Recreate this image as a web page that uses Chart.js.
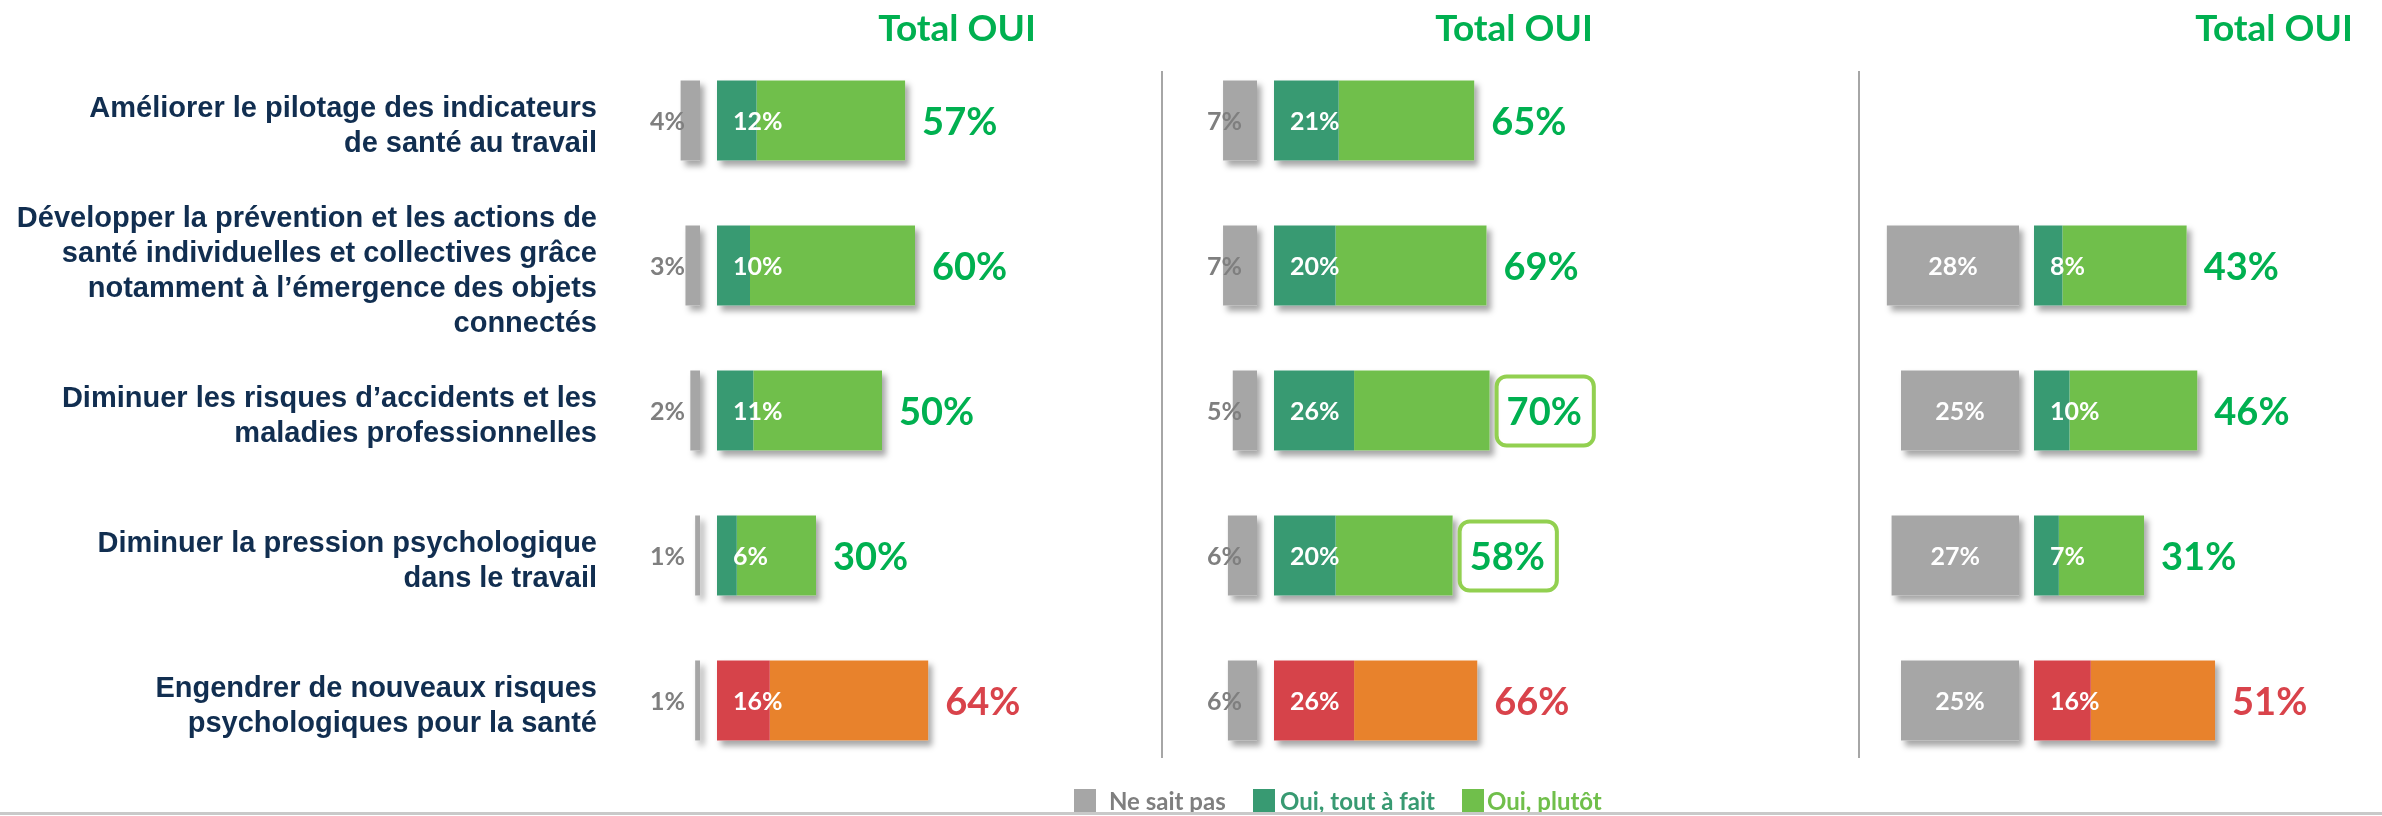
<!DOCTYPE html>
<html><head><meta charset="utf-8">
<script src="https://cdn.jsdelivr.net/npm/chart.js@4.4.1/dist/chart.umd.min.js"></script>
<style>html,body{margin:0;padding:0;background:#fff;}canvas{display:block;}</style>
</head><body>
<canvas id="c" width="2382" height="816"></canvas>
<script>
// ---------- DATA ----------
const categories = [
  ["Améliorer le pilotage des indicateurs", "de santé au travail"],
  ["Développer la prévention et les actions de", "santé individuelles et collectives grâce", "notamment à l’émergence des objets", "connectés"],
  ["Diminuer les risques d’accidents et les", "maladies professionnelles"],
  ["Diminuer la pression psychologique", "dans le travail"],
  ["Engendrer de nouveaux risques", "psychologiques pour la santé"]
];
const neSaitPas1 = [4, 3, 2, 1, 1];
const toutAFait1 = [12, 10, 11, 6, 16];
const plutot1    = [45, 50, 39, 24, 48];
const totalOui1  = [57, 60, 50, 30, 64];

const neSaitPas2 = [7, 7, 5, 6, 6];
const toutAFait2 = [21, 20, 26, 20, 26];
const plutot2    = [44, 49, 44, 38, 40];
const totalOui2  = [65, 69, 70, 58, 66];

const neSaitPas3 = [null, 28, 25, 27, 25];
const toutAFait3 = [null, 8, 10, 7, 16];
const plutot3    = [null, 35, 36, 24, 35];
const totalOui3  = [null, 43, 46, 31, 51];

const headerText = "Total OUI";
const legendLabels = ["Ne sait pas", "Oui, tout à fait", "Oui, plutôt"];

// ---------- STYLE / LAYOUT ----------
const GREY = "#A6A6A6", DKGREEN = "#389A72", LTGREEN = "#70BF4B", RED = "#D6434A", ORANGE = "#E8822C";
const TOTAL_GREEN = "#00B050", TOTAL_RED = "#D9434B", NAVY = "#112E50", GREY_TXT = "#7F7F7F";
const FONT = 'Lato, "Open Sans", sans-serif';
const negativeRow = 4;
const AREA_L = 620, AREA_R = 2382;
const LABEL_SHIFT = 6;

const panels = [
  {grey: neSaitPas1, dark: toutAFait1, light: plutot1, total: totalOui1, greyZero: 700,  greyK: 4.85, greenZero: 717,  greenK: 3.3,  greyInside: false, boxes: []},
  {grey: neSaitPas2, dark: toutAFait2, light: plutot2, total: totalOui2, greyZero: 1257, greyK: 4.85, greenZero: 1274, greenK: 3.08, greyInside: false, boxes: [2, 3]},
  {grey: neSaitPas3, dark: toutAFait3, light: plutot3, total: totalOui3, greyZero: 2019, greyK: 4.72, greenZero: 2034, greenK: 3.55, greyInside: true,  boxes: []}
];
const separators = [1162, 1859];

const darkColors  = categories.map((_, i) => i === negativeRow ? RED : DKGREEN);
const lightColors = categories.map((_, i) => i === negativeRow ? ORANGE : LTGREEN);
const totalColors = categories.map((_, i) => i === negativeRow ? TOTAL_RED : TOTAL_GREEN);

const scales = {
  y: {
    type: 'category', position: 'left',
    grid: {display: false, drawTicks: false}, border: {display: false},
    ticks: {padding: 23, color: NAVY, font: {family: '"Liberation Sans", Arial, sans-serif', weight: 'bold', size: 29, lineHeight: 1.2}},
    afterFit(s) {
      s.width = AREA_L; s.paddingTop = 0; s.paddingBottom = 0;
      if (!s._shiftPatched && typeof s._computeLabelItems === 'function') {
        const orig = s._computeLabelItems;
        s._computeLabelItems = function (ca) {
          const items = orig.call(this, ca);
          try { items.forEach(it => { if (it.options && it.options.translation) it.options.translation[1] += LABEL_SHIFT; }); } catch (e) {}
          return items;
        };
        s._shiftPatched = true;
      }
    }
  }
};
const datasets = [];
const roles = [];
panels.forEach((p, k) => {
  scales['g' + k] = {type: 'linear', axis: 'x', position: 'bottom', display: false, reverse: true, stacked: true, bounds: 'data',
    min: -(AREA_R - p.greyZero) / p.greyK, max: (p.greyZero - AREA_L) / p.greyK};
  scales['v' + k] = {type: 'linear', axis: 'x', position: 'bottom', display: false, stacked: true, bounds: 'data',
    min: -(p.greenZero - AREA_L) / p.greenK, max: (AREA_R - p.greenZero) / p.greenK};
  datasets.push({label: legendLabels[0], data: p.grey, xAxisID: 'g' + k, yAxisID: 'y', backgroundColor: GREY, order: 3});
  roles.push({panel: k, role: 'grey'});
  datasets.push({label: legendLabels[1], data: p.dark, xAxisID: 'v' + k, yAxisID: 'y', backgroundColor: darkColors, order: 1});
  roles.push({panel: k, role: 'dark'});
  datasets.push({label: legendLabels[2], data: p.light, xAxisID: 'v' + k, yAxisID: 'y', backgroundColor: lightColors, order: 2});
  roles.push({panel: k, role: 'light'});
});

function roundRect(ctx, x, y, w, h, r) {
  ctx.beginPath();
  ctx.moveTo(x + r, y);
  ctx.arcTo(x + w, y, x + w, y + h, r);
  ctx.arcTo(x + w, y + h, x, y + h, r);
  ctx.arcTo(x, y + h, x, y, r);
  ctx.arcTo(x, y, x + w, y, r);
  ctx.closePath();
}

const overlay = {
  id: 'overlay',
  beforeDatasetsDraw(chart) {
    // soft drop shadows behind each bar group
    const ctx = chart.ctx;
    ctx.save();
    ctx.shadowColor = 'rgba(0,0,0,0.35)';
    ctx.shadowBlur = 6;
    ctx.shadowOffsetX = 4;
    ctx.shadowOffsetY = 5;
    ctx.fillStyle = '#ffffff';
    const groups = {};
    chart.data.datasets.forEach((ds, di) => {
      const r = roles[di];
      const meta = chart.getDatasetMeta(di);
      meta.data.forEach((el, i) => {
        if (ds.data[i] === null || ds.data[i] === undefined) return;
        const key = r.panel + '-' + i + '-' + (r.role === 'grey' ? 'g' : 'v');
        const lo = Math.min(el.x, el.base), hi = Math.max(el.x, el.base);
        const g = groups[key] || (groups[key] = {lo: Infinity, hi: -Infinity, y: el.y, h: el.height});
        g.lo = Math.min(g.lo, lo); g.hi = Math.max(g.hi, hi);
      });
    });
    Object.values(groups).forEach(g => ctx.fillRect(g.lo, g.y - g.h / 2, g.hi - g.lo, g.h));
    ctx.restore();
  },
  afterDatasetsDraw(chart) {
    const ctx = chart.ctx;
    ctx.save();
    ctx.textBaseline = 'middle';
    chart.data.datasets.forEach((ds, di) => {
      const r = roles[di], p = panels[r.panel];
      const meta = chart.getDatasetMeta(di);
      meta.data.forEach((el, i) => {
        const v = ds.data[i];
        if (v === null || v === undefined) return;
        const y = el.y + 1;
        if (r.role === 'grey') {
          ctx.font = 'bold 25px ' + FONT;
          if (p.greyInside) {
            ctx.fillStyle = '#FFFFFF'; ctx.textAlign = 'center';
            ctx.fillText(v + '%', (el.x + el.base) / 2, y);
          } else {
            ctx.fillStyle = GREY_TXT; ctx.textAlign = 'right';
            ctx.fillText(v + '%', el.base - 15, y);
          }
        } else if (r.role === 'dark') {
          ctx.font = 'bold 25px ' + FONT;
          ctx.fillStyle = '#FFFFFF'; ctx.textAlign = 'left';
          ctx.fillText(v + '%', el.base + 16, y);
        } else {
          const t = p.total[i];
          if (t === null || t === undefined) return;
          ctx.font = 'bold 38px ' + FONT;
          ctx.fillStyle = totalColors[i]; ctx.textAlign = 'left';
          const tx = el.x + 17;
          ctx.fillText(t + '%', tx, y + 1);
          if (p.boxes.indexOf(i) !== -1) {
            const w = ctx.measureText(t + '%').width;
            ctx.save();
            ctx.strokeStyle = '#92D050'; ctx.lineWidth = 4;
            roundRect(ctx, tx - 10, el.y - 34, w + 22, 69, 10);
            ctx.stroke();
            ctx.restore();
          }
        }
      });
    });
    ctx.restore();
  },
  afterDraw(chart) {
    const ctx = chart.ctx;
    ctx.save();
    // separators
    ctx.strokeStyle = '#A6A6A6'; ctx.lineWidth = 2;
    separators.forEach(x => { ctx.beginPath(); ctx.moveTo(x, 71); ctx.lineTo(x, 758); ctx.stroke(); });
    // headers
    ctx.font = 'bold 37px ' + FONT; ctx.fillStyle = TOTAL_GREEN; ctx.textAlign = 'center'; ctx.textBaseline = 'alphabetic';
    panels.forEach((p, k) => {
      const x0 = chart.scales['v' + k].getPixelForValue(0);
      ctx.fillText(headerText, x0 + 240, 41);
    });
    // legend
    const boxX = [1074, 1253, 1462], textX = [1109, 1280, 1487];
    const boxC = [GREY, DKGREEN, LTGREEN], txtC = [GREY_TXT, DKGREEN, LTGREEN];
    ctx.font = 'bold 24px ' + FONT; ctx.textAlign = 'left';
    legendLabels.forEach((lab, i) => {
      ctx.fillStyle = boxC[i]; ctx.fillRect(boxX[i], 789, 22, 24);
      ctx.fillStyle = txtC[i]; ctx.fillText(lab, textX[i], 810);
    });
    ctx.strokeStyle = '#C9C9C9'; ctx.lineWidth = 3;
    ctx.beginPath(); ctx.moveTo(0, 813.5); ctx.lineTo(2382, 813.5); ctx.stroke();
    ctx.restore();
  }
};

new Chart(document.getElementById('c'), {
  type: 'bar',
  data: {labels: categories, datasets},
  options: {
    indexAxis: 'y',
    responsive: false,
    animation: false,
    devicePixelRatio: 1,
    layout: {padding: {top: 48, bottom: 43, left: 0, right: 0}},
    datasets: {bar: {grouped: false, categoryPercentage: 1, barPercentage: 0.552, borderWidth: 0}},
    plugins: {legend: {display: false}, tooltip: {enabled: false}, title: {display: false}},
    scales
  },
  plugins: [overlay]
});
</script>
</body></html>
